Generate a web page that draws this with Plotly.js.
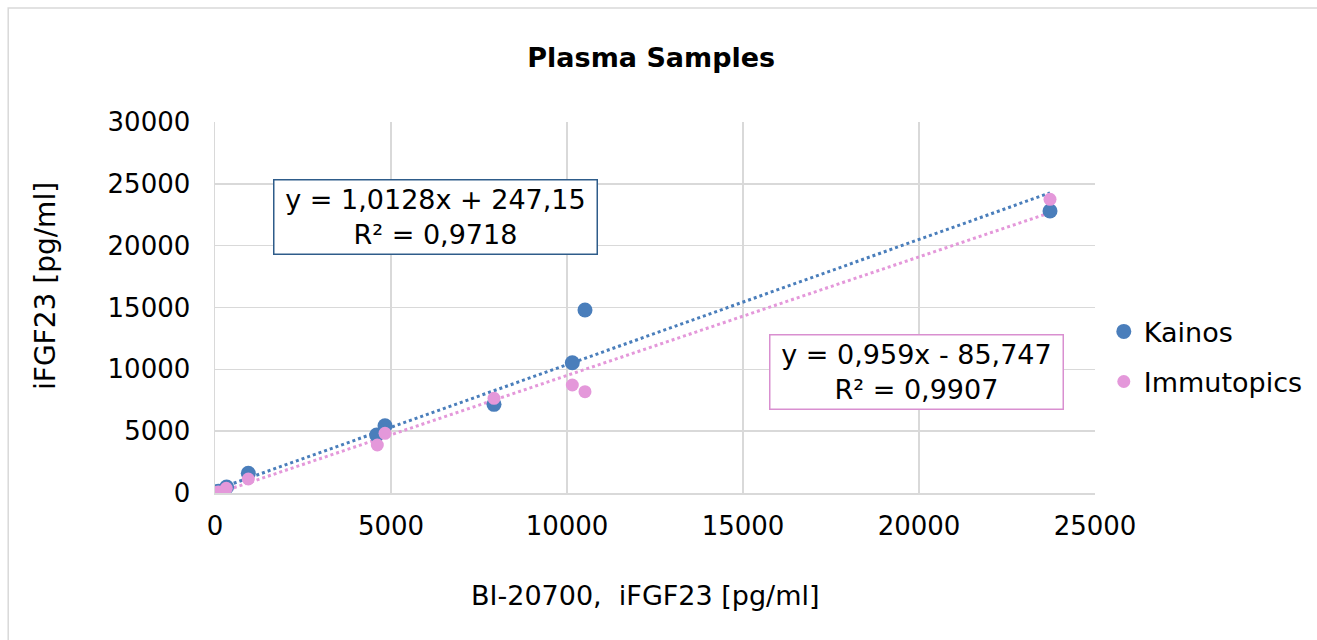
<!DOCTYPE html>
<html>
<head>
<meta charset="utf-8">
<script src="https://cdn.plot.ly/plotly-3.0.1.min.js"></script>
<style>html,body{margin:0;padding:0;background:#fff;}#chart{width:1317px;height:640px;}</style>
</head>
<body>
<div id="chart"></div>
<script>
// Data
const kainosX = [50, 100, 330, 946, 4593, 4830, 7926, 10151, 10511, 23722];
const kainosY = [80, 150, 480, 1593, 4690, 5440, 7170, 10537, 14795, 22800];
const immutopicsX = [50, 100, 320, 946, 4611, 4830, 7926, 10151, 10511, 23722];
const immutopicsY = [30, 80, 380, 1132, 3880, 4825, 7655, 8733, 8190, 23750];

const seriesNames = ["Kainos", "Immutopics"];
const kainosSlope = 1.0128, kainosIntercept = 247.15;
const immSlope = 0.959, immIntercept = -85.747;
const eqKainos = "y = 1,0128x + 247,15<br>R² = 0,9718";
const eqImm = "y = 0,959x - 85,747<br>R² = 0,9907";

const xTicks = [0, 5000, 10000, 15000, 20000, 25000];
const yTicks = [0, 5000, 10000, 15000, 20000, 25000, 30000];

const chartTitle = "Plasma Samples";
const xTitle = "BI-20700,  iFGF23 [pg/ml]";
const yTitle = "iFGF23 [pg/ml]";

const blue = "#4A7EBB";
const pink = "#E498DA";
const F = "DejaVu Sans, Verdana, sans-serif";

function fitLine(xs, m, b) {
  const lo = Math.min(...xs), hi = Math.max(...xs);
  return {x: [lo, hi], y: [m * lo + b, m * hi + b]};
}
const kFit = fitLine(kainosX, kainosSlope, kainosIntercept);
const iFit = fitLine(immutopicsX, immSlope, immIntercept);

const traces = [
  {x: kFit.x, y: kFit.y, mode: "lines", line: {color: blue, width: 3, dash: "dot"}, showlegend: false, hoverinfo: "skip"},
  {x: iFit.x, y: iFit.y, mode: "lines", line: {color: pink, width: 3, dash: "dot"}, showlegend: false, hoverinfo: "skip"},
  {x: kainosX, y: kainosY, mode: "markers", name: seriesNames[0], legendgroup: "k", marker: {color: blue, size: 15}},
  {x: immutopicsX, y: immutopicsY, mode: "markers", name: seriesNames[1], legendgroup: "i", marker: {color: pink, size: 13}}
];

const layout = {
  width: 1317, height: 640,
  margin: {l: 215, r: 222, t: 122, b: 147, autoexpand: false},
  paper_bgcolor: "#fff", plot_bgcolor: "#fff",
  font: {family: F, color: "#000"},
  title: {text: "<b>" + chartTitle + "</b>", font: {family: F, size: 27, color: "#000"}, x: 0.4945, xanchor: "center", y: 0.91, yanchor: "middle"},
  xaxis: {
    range: [0, 25000], tickvals: xTicks, ticktext: xTicks.map(String),
    showgrid: true, gridcolor: "#D9D9D9", gridwidth: 1.5,
    showline: true, linecolor: "#D9D9D9", linewidth: 1.5, zeroline: false,
    ticks: "", tickfont: {family: F, size: 26}, ticklabelstandoff: 9,
    fixedrange: true
  },
  yaxis: {
    range: [0, 30000], tickvals: yTicks, ticktext: yTicks.map(String),
    showgrid: true, gridcolor: "#D9D9D9", gridwidth: 1.5,
    showline: true, linecolor: "#D9D9D9", linewidth: 1.5, zeroline: false,
    ticks: "", tickfont: {family: F, size: 26}, ticklabelstandoff: 18,
    fixedrange: true
  },
  legend: {x: 1.010, xanchor: "left", y: 0.367, yanchor: "middle", font: {family: F, size: 27}, bgcolor: "rgba(0,0,0,0)", itemwidth: 30, traceorder: "grouped", tracegroupgap: 12},
  annotations: [
    {x: 6278, y: 22358, xref: "x", yref: "y", text: eqKainos, showarrow: false, font: {family: F, size: 27, color: "#000"},
     bordercolor: "#2E5C8A", borderwidth: 1.5, borderpad: 1, width: 320, height: 71, bgcolor: "#fff", align: "center"},
    {x: 19943, y: 9825, xref: "x", yref: "y", text: eqImm, showarrow: false, font: {family: F, size: 27, color: "#000"},
     bordercolor: "#D98FD0", borderwidth: 1.5, borderpad: 1, width: 290, height: 71, bgcolor: "#fff", align: "center"},
    {x: (645 - 215) / 880, y: -(595 - 493) / 371, xref: "paper", yref: "paper", xanchor: "center", yanchor: "middle",
     text: xTitle, showarrow: false, font: {family: F, size: 27, color: "#000"}},
    {x: (45 - 215) / 880, y: (493 - 286) / 371, xref: "paper", yref: "paper", xanchor: "center", yanchor: "middle",
     text: yTitle, textangle: -90, showarrow: false, font: {family: F, size: 28, color: "#000"}}
  ],
  shapes: [
    {type: "rect", xref: "paper", yref: "paper", x0: -0.235, x1: 1.5, y0: -0.5, y1: 1.307, line: {color: "#D9D9D9", width: 1.5}, fillcolor: "rgba(0,0,0,0)", layer: "below"}
  ]
};

Plotly.newPlot("chart", traces, layout, {displayModeBar: false, staticPlot: true});
</script>
</body>
</html>
